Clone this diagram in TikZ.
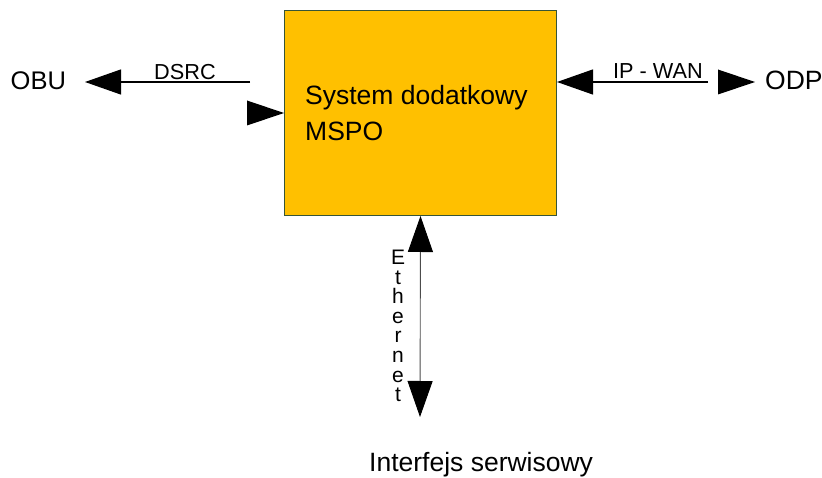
\documentclass[tikz,border=0pt]{standalone}
\usepackage{fontspec}
\setmainfont{Liberation Sans}
\usetikzlibrary{arrows.meta}
\definecolor{boxfill}{RGB}{255,192,0}
\definecolor{boxedge}{RGB}{55,85,55}
\tikzset{
  big/.style={font=\fontsize{26.5}{36}\selectfont, inner sep=0pt},
  lbl/.style={font=\fontsize{21.7}{24}\selectfont, inner sep=0pt},
  tip/.style={-{Triangle[length=36pt,width=25pt]}},
  conn/.style={draw=black, line width=1.2pt},
  mainbox/.style={draw=boxedge, fill=boxfill, line width=1pt, minimum width=272pt, minimum height=205pt, inner sep=0pt}
}
\begin{document}
\begin{tikzpicture}[x=1pt,y=-1pt]
\useasboundingbox (0,0) rectangle (822,478);
% main box
\node[mainbox, anchor=north west] (box) at (284,10) {};
\node[big, align=left, anchor=north west] (sys) at (305,85.5) {System dodatkowy\\MSPO};
% end nodes
\node[big, font=\fontsize{25.5}{30}\selectfont, anchor=base east, outer xsep=19pt] (obu) at (85,90) {OBU};
\node[big, anchor=base west] (odp) at (765,89.5) {ODP};
\node[big, anchor=base west] (serv) at (369,471.5) {Interfejs serwisowy};
% labels
\node[lbl, anchor=base west] (dsrc) at (154,80) {DSRC};
\node[lbl, anchor=base west] (wan) at (613,79) {IP - WAN};
\node[font=\fontsize{21}{19.57}\selectfont, inner sep=0pt, align=center, anchor=north] (eth) at (398,250) {E\\t\\h\\e\\r\\n\\e\\t};
% connector end points
\coordinate (dsrcend) at (250,82);
\coordinate (wanend) at (708,82);
\coordinate (ethend) at (420,417);
% connectors
\draw[conn, tip] (dsrcend) -- (dsrcend -| obu.east);
\fill[black] (box.west) -- ++(-37,-12.5) -- ++(0,25) -- cycle;
\draw[conn, tip] (wanend) -- (wanend -| box.east);
\fill[black] ([xshift=-10pt]odp.west |- wanend) -- ++(-37,-12.5) -- ++(0,25) -- cycle;
\draw[conn, draw=black!70, line width=0.9pt, {Triangle[length=36pt,width=25pt,color=black]}-{Triangle[length=36pt,width=25pt,color=black]}] (box.south) -- (ethend);
\end{tikzpicture}
\end{document}
